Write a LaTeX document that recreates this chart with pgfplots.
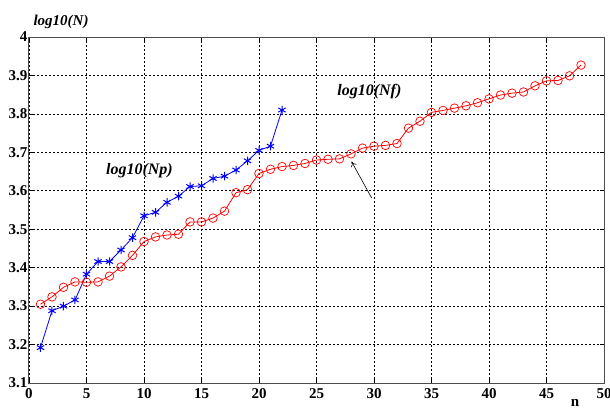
\documentclass[border=0pt]{standalone}
\usepackage{fontspec}
\setmainfont{Liberation Serif}
\usepackage{pgfplots}
\pgfplotsset{compat=1.18}
\usetikzlibrary{arrows.meta}

\begin{document}
\begin{tikzpicture}
	\begin{axis}[
		scale only axis,
		width=575pt, height=346pt,
		xmin=0, xmax=50, ymin=3.1, ymax=4,
		xtick={0,5,...,50},
		ytick={3.1,3.2,...,4.05},
		grid=major,
		major grid style={black, line width=0.75pt, dash pattern=on 2pt off 2pt},
		axis line style={black!70, line width=1pt},
		tick style={black, line width=0.7pt},
		tick align=inside,
		major tick length=4pt,
		tick label style={font=\fontsize{15}{15}\selectfont\bfseries},
		/pgf/number format/assume math mode=true,
		/pgf/number format/.cd, fixed, precision=1,
		/pgfplots/.cd,
		xticklabel style={yshift=-2pt},
		yticklabel style={xshift=2pt},
		clip=false,
	]

	% log10(Np)
	\addplot[blue, line width=0.8pt, mark=asterisk, mark size=4.2pt, mark options={line width=1pt}] coordinates {
	(1,3.192) (2,3.288) (3,3.300) (4,3.316) (5,3.383) (6,3.416) (7,3.416)
	(8,3.446) (9,3.478) (10,3.535) (11,3.544) (12,3.570) (13,3.586) (14,3.611)
	(15,3.613) (16,3.632) (17,3.638) (18,3.654) (19,3.678) (20,3.705) (21,3.716)
	(22,3.810)
	};

	% log10(Nf)
	\addplot[red, line width=0.8pt, mark=o, mark size=4.3pt, mark options={line width=0.7pt}] coordinates {
	(1,3.305) (2,3.324) (3,3.349) (4,3.363) (5,3.362) (6,3.363) (7,3.378)
	(8,3.402) (9,3.432) (10,3.468) (11,3.480) (12,3.485) (13,3.487) (14,3.519)
	(15,3.519) (16,3.529) (17,3.547) (18,3.595) (19,3.603) (20,3.645) (21,3.656)
	(22,3.663) (23,3.666) (24,3.671) (25,3.680) (26,3.682) (27,3.683) (28,3.696)
	(29,3.711) (30,3.716) (31,3.718) (32,3.723) (33,3.763) (34,3.781) (35,3.804)
	(36,3.809) (37,3.815) (38,3.821) (39,3.829) (40,3.839) (41,3.849) (42,3.854)
	(43,3.857) (44,3.873) (45,3.886) (46,3.887) (47,3.899) (48,3.927)
	};

	\node[font=\fontsize{16}{16}\selectfont\bfseries\itshape] at (axis cs:9.6,3.652) {log10(Np)};
	\node[font=\fontsize{16}{16}\selectfont\bfseries\itshape] at (axis cs:29.6,3.858) {log10(Nf)};
	\draw[-{To[length=5pt,width=6pt]}, black, line width=0.6pt] (axis cs:29.8,3.581) -- (axis cs:28.05,3.676);

	\end{axis}

	\node[font=\fontsize{15}{15}\selectfont\bfseries\itshape] at (32pt,361pt) {log10(N)};
	\node[font=\fontsize{15}{15}\selectfont\bfseries] at (546pt,-20pt) {n};

	\pgfresetboundingbox
	\path[use as bounding box] (-29pt,-27pt) rectangle (581pt,383pt);
\end{tikzpicture}
\end{document}
